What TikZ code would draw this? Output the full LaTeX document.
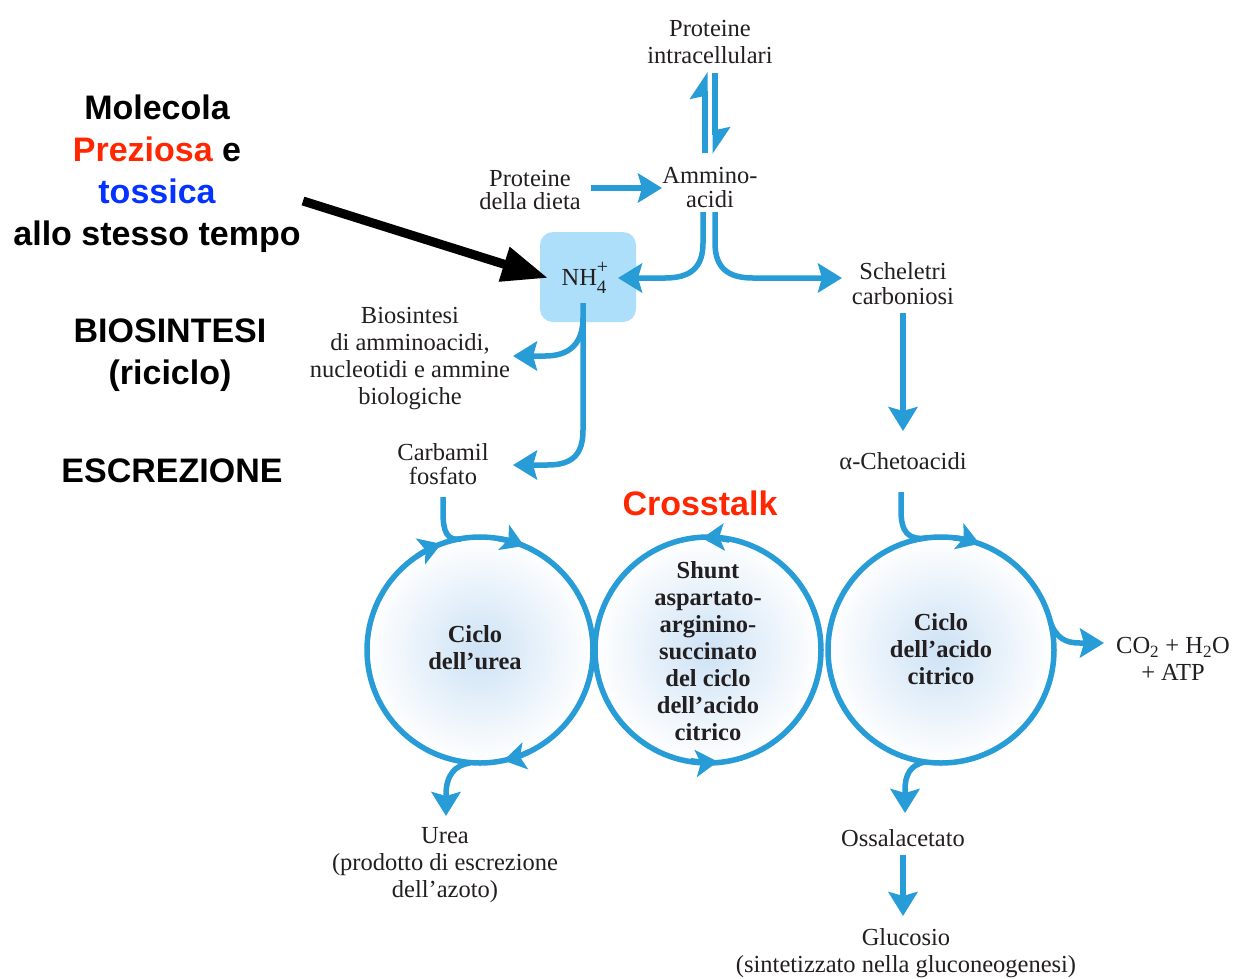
\documentclass[tikz,border=0pt]{standalone}
\usepackage{fontspec}
\setmainfont{Liberation Serif}
\newfontfamily\labelsans{Liberation Sans}
\usetikzlibrary{arrows.meta,calc}
\definecolor{ink}{RGB}{35,31,32}
\definecolor{flowblue}{RGB}{40,156,214}
\definecolor{ionfill}{RGB}{173,223,250}
\definecolor{bubble}{RGB}{205,226,245}
\definecolor{alertred}{RGB}{255,38,0}
\definecolor{toxblue}{RGB}{4,51,255}
% stacked sub/superscript, e.g. NH_4^+
\newcommand\ionscript[2]{\rlap{\raisebox{0.48em}{\fontsize{20}{20}\selectfont #2}}\raisebox{-0.34em}{\fontsize{19}{19}\selectfont #1}}
\begin{document}
\begin{tikzpicture}[x=1pt,y=1pt,
  every node/.style={inner sep=0pt, text=ink, align=center,
    font=\fontsize{24.5}{27}\selectfont},
  flow/.style={draw=flowblue, line width=5.5pt},
  tipped/.style={-{Stealth[length=24pt,width=29pt,inset=4pt]}},
  ringtip/.style={-{Stealth[length=22pt,width=27pt,inset=5pt]}},
  harp/.style={-{Stealth[harpoon,length=23pt,width=30pt,inset=3pt]}},
  ringnode/.style={circle, minimum size=226pt, draw=flowblue, line width=5.5pt,
    inner color=bubble, outer color=white},
  ringtext/.style={font=\fontsize{24.5}{27}\selectfont\bfseries},
  ionbox/.style={rectangle, rounded corners=13pt, fill=ionfill,
    minimum width=96pt, minimum height=90pt},
  note/.style={text=black, font=\labelsans\bfseries\fontsize{34}{42}\selectfont},
]
\fill[white] (0,0) rectangle (1236,-978);
\useasboundingbox (0,0) rectangle (1236,-978);

% ---- side notes ----
\node[note] (mol) at (157,-174)
  {Molecola\\{\color{alertred}Preziosa} e\\{\color{toxblue}tossica}\\allo stesso tempo};
\node[note] (biosnote) at (170,-355) {BIOSINTESI\\(riciclo)};
\node[note] (escr) at (172,-471) {ESCREZIONE};
\node[note, text=alertred] (xtalk) at (700,-503) {Crosstalk};

% ---- metabolites ----
\node (pint) at (710,-42) {Proteine\\intracellulari};
\node[font=\fontsize{24.5}{24}\selectfont] (aa) at (710,-188) {Ammino-\\acidi};
\node[font=\fontsize{24.5}{23}\selectfont] (diet) at (530,-190) {Proteine\\della dieta};
\node[ionbox] (nh4) at (588,-277) {};
\node (nh4t) at (584,-278) {NH\ionscript{4}{+}};
\node (bios) at (410,-359) {Biosintesi\\di amminoacidi,\\nucleotidi e ammine\\biologiche};
\node[font=\fontsize{24.5}{24}\selectfont] (carb) at (443,-464) {Carbamil\\fosfato};
\node[font=\fontsize{24.5}{25}\selectfont] (schel) at (903,-284) {Scheletri\\carboniosi};
\node (cheto) at (903,-461) {α-Chetoacidi};
\node (co2) at (1173,-659) {CO\textsubscript{2} + H\textsubscript{2}O\\+ ATP};
\node (urea) at (445,-865) {Urea\\(prodotto di escrezione\\dell’azoto)};
\node (oss) at (903,-838) {Ossalacetato};
\node (gluc) at (906,-953) {Glucosio\\(sintetizzato nella gluconeogenesi)};

% ---- cycles ----
\node[ringnode] (ucyc) at (480,-650) {};
\node[ringnode] (shunt) at (708,-650) {};
\node[ringnode] (tca) at (941,-650) {};
\node[ringtext] (ucyct) at (475,-648) {Ciclo\\dell’urea};
\node[ringtext] (shuntt) at (708,-651)
  {Shunt\\aspartato-\\arginino-\\succinato\\del ciclo\\dell’acido\\citrico};
\node[ringtext] (tcat) at (941,-649) {Ciclo\\dell’acido\\citrico};

% ---- ports ----
\coordinate (aaL) at (703,-212);
\coordinate (aaR) at (715,-212);
\coordinate (nhS) at (583,-303);
\coordinate (molE) at (303,-201);

% reversible exchange with intracellular proteins
\draw[flow,harp] (705,-153) -- (705,-72);
\draw[flow,harp] (715,-73) -- (715,-154);

% dietary proteins
\draw[flow,tipped] ([xshift=10pt]diet.east |- 0,-188) -- (662,-188);

% amino acids split into NH4+ and carbon skeletons
\draw[flow,tipped] (aaL) -- (703,-243) .. controls (703,-268) and (690,-278) .. (665,-278) -- (618,-278);
\draw[flow,tipped] (aaR) -- (715,-243) .. controls (715,-268) and (728,-278) .. (753,-278) -- (842,-278);

% fates of NH4+
\draw[flow,tipped] (nhS) -- (583,-430) .. controls (583,-455) and (572,-465) .. (547,-465) -- (513,-465);
\draw[flow,tipped] (583,-318) .. controls (583,-343) and (570,-356) .. (545,-356) -- (513,-356);

% carbon skeletons
\draw[flow,tipped] (903,-313) -- (903,-431);

% entries into the cycles
\draw[flow] (443,-497) -- (443,-512) .. controls (443,-532) and (447,-541) .. (461,-539);
\draw[flow] (901,-492) -- (901,-510) .. controls (901,-532) and (908,-540) .. (926,-538);

% exits from the cycles
\draw[flow,tipped] (470,-763) .. controls (455,-765) and (446,-775) .. (446,-795) -- (446,-816);
\draw[flow,tipped] (925,-762) .. controls (910,-765) and (905,-775) .. (905,-790) -- (905,-813);
\draw[flow,tipped] (1050,-621) .. controls (1056,-638) and (1065,-643) .. (1080,-643) -- (1104,-643);
\draw[flow,tipped] (903,-855) -- (903,-916);

% direction marks on the cycles
\draw[flow,ringtip] (ucyc.center) ++(124:113) arc[start angle=124, end angle=110, radius=113];
\draw[flow,ringtip] (ucyc.center) ++(81:113) arc[start angle=81, end angle=67, radius=113];
\draw[flow,ringtip] (ucyc.center) ++(-64:113) arc[start angle=-64, end angle=-78, radius=113];
\draw[flow,ringtip] (shunt.center) ++(79:112) arc[start angle=79, end angle=93, radius=112];
\draw[flow,ringtip] (shunt.center) ++(-99:112) arc[start angle=-99, end angle=-85, radius=112];
\draw[flow,ringtip] (tca.center) ++(84:113) arc[start angle=84, end angle=70, radius=113];

% pointer to the ammonium ion
\draw[line width=9pt, -{Triangle[length=46pt,width=34pt]}] (molE) -- (548,-278);
\end{tikzpicture}
\end{document}
